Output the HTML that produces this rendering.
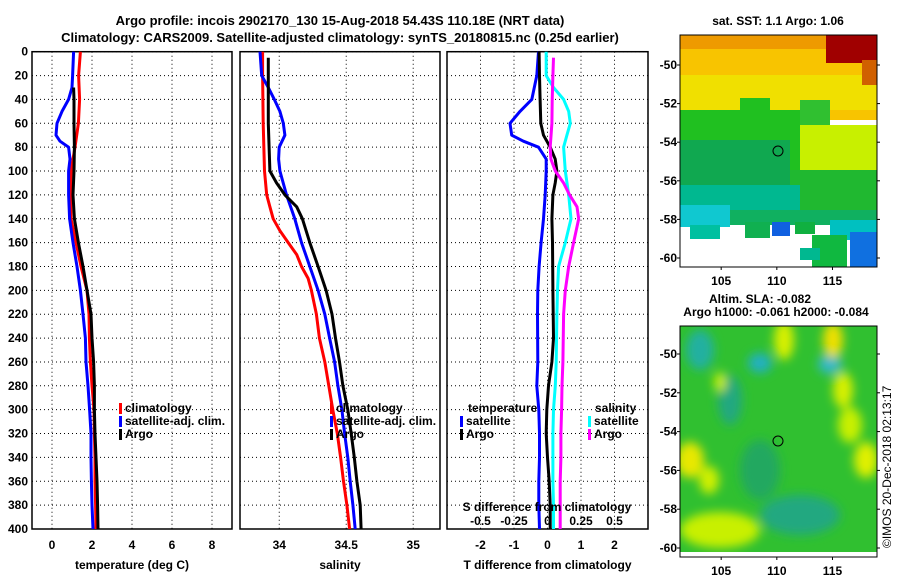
<!DOCTYPE html>
<html><head><meta charset="utf-8"><style>
html,body{margin:0;padding:0;background:#fff}
svg{display:block;font-family:"Liberation Sans",sans-serif;font-weight:bold;font-size:12px}
</style></head><body>
<svg id="c" width="900" height="580" viewBox="0 0 900 580" xmlns="http://www.w3.org/2000/svg">
<text x="340" y="25" text-anchor="middle" font-size="13">Argo profile: incois 2902170_130 15-Aug-2018 54.43S 110.18E (NRT data)</text>
<text x="340" y="42" text-anchor="middle" font-size="13">Climatology: CARS2009. Satellite-adjusted climatology: synTS_20180815.nc (0.25d earlier)</text>
<g id="g"></g>
<!-- SST map -->
<g>
<text x="778" y="25" text-anchor="middle">sat. SST: 1.1 Argo: 1.06</text>
<clipPath id="m1"><rect x="680" y="35" width="197" height="232"/></clipPath>
<g clip-path="url(#m1)">
<rect x="680" y="35" width="197" height="232" fill="#fff"/>
<rect x="680" y="35" width="197" height="85" fill="#f8c400"/>
<rect x="680" y="35" width="197" height="14" fill="#ee9a00"/>
<rect x="680" y="75" width="197" height="35" fill="#f0e000"/>
<rect x="826" y="35" width="51" height="28" fill="#a00000"/>
<rect x="862" y="60" width="15" height="25" fill="#d06000"/>
<rect x="680" y="110" width="140" height="80" fill="#20c020"/>
<rect x="740" y="98" width="30" height="20" fill="#20c020"/>
<rect x="800" y="100" width="30" height="30" fill="#30c030"/>
<rect x="800" y="125" width="77" height="60" fill="#c8f000"/>
<rect x="680" y="140" width="110" height="50" fill="#10a850"/>
<rect x="790" y="170" width="87" height="40" fill="#20b830"/>
<rect x="680" y="185" width="120" height="30" fill="#00b890"/>
<rect x="680" y="205" width="50" height="22" fill="#10c8d0"/>
<rect x="730" y="210" width="147" height="15" fill="#10b060"/>
<rect x="690" y="225" width="30" height="14" fill="#00c0a0"/>
<rect x="745" y="222" width="25" height="16" fill="#10b050"/>
<rect x="772" y="222" width="18" height="14" fill="#1060e0"/>
<rect x="795" y="222" width="20" height="12" fill="#10b040"/>
<rect x="830" y="220" width="47" height="20" fill="#00c0c0"/>
<rect x="812" y="235" width="35" height="32" fill="#10b840"/>
<rect x="850" y="232" width="27" height="35" fill="#1070e0"/>
<rect x="800" y="248" width="20" height="12" fill="#00b890"/>
</g>
<rect x="680" y="35" width="197" height="232" fill="none" stroke="#000"/>
<circle cx="778" cy="151" r="5" fill="none" stroke="#000"/>
</g>
<!-- SLA map -->
<g>
<text x="760" y="303" text-anchor="middle">Altim. SLA: -0.082</text>
<text x="776" y="316" text-anchor="middle">Argo h1000: -0.061 h2000: -0.084</text>
<clipPath id="m2"><rect x="680" y="326" width="197" height="231"/></clipPath>
<filter id="bl"><feGaussianBlur stdDeviation="5"/></filter>
<g clip-path="url(#m2)">
<rect x="680" y="326" width="197" height="231" fill="#30c030"/>
<g filter="url(#bl)">
<ellipse cx="700" cy="350" rx="14" ry="20" fill="#20b0a0"/>
<ellipse cx="730" cy="400" rx="12" ry="25" fill="#20a880"/>
<ellipse cx="760" cy="363" rx="12" ry="10" fill="#20b0c0"/>
<ellipse cx="830" cy="364" rx="12" ry="10" fill="#30b8c8"/>
<ellipse cx="784" cy="340" rx="10" ry="20" fill="#d8f000"/>
<ellipse cx="833" cy="340" rx="10" ry="18" fill="#f0e000"/>
<ellipse cx="843" cy="390" rx="10" ry="18" fill="#d8f000"/>
<ellipse cx="850" cy="425" rx="12" ry="18" fill="#c8f000"/>
<ellipse cx="690" cy="460" rx="14" ry="18" fill="#e8e800"/>
<ellipse cx="866" cy="460" rx="12" ry="18" fill="#e0f000"/>
<ellipse cx="709" cy="480" rx="10" ry="14" fill="#d0f000"/>
<ellipse cx="720" cy="530" rx="40" ry="18" fill="#c8f000"/>
<ellipse cx="800" cy="515" rx="40" ry="20" fill="#20a880"/>
<ellipse cx="760" cy="470" rx="20" ry="30" fill="#20a860"/>
<ellipse cx="720" cy="382" rx="6" ry="10" fill="#c8f000"/>
</g>
<rect x="680" y="552" width="197" height="6" fill="#fff"/>
</g>
<rect x="680" y="326" width="197" height="231" fill="none" stroke="#000"/>
<circle cx="778" cy="441" r="5" fill="none" stroke="#000"/>
</g>
<text transform="translate(891,548) rotate(-90)" font-weight="normal" font-size="12">©IMOS 20-Dec-2018 02:13:17</text>
</svg>
<script>
// ----- data -----
const depthTicks=[0,20,40,60,80,100,120,140,160,180,200,220,240,260,280,300,320,340,360,380,400];
const tTicks=[0,2,4,6,8];
const sTicks=[34,34.5,35];
const dTTicks=[-2,-1,0,1,2];
const dSTicks=[-0.5,-0.25,0,0.25,0.5];
const dSTickLabels=['-0.5','-0.25','0','0.25','0.5'];
const latTicks=[-50,-52,-54,-56,-58,-60];
const lonTicks=[105,110,115];

const tClimDepth=[0,20,40,60,80,100,120,140,160,180,200,220,240,260,280,300,320,340,360,380,400];
const tClim=[1.42,1.33,1.38,1.32,1.15,0.95,0.93,0.95,1.2,1.45,1.75,1.85,1.87,1.92,2.0,2.1,2.12,2.15,2.15,2.18,2.2];
const tSatDepth=[0,20,30,40,50,60,70,75,80,90,100,120,140,160,180,200,220,240,260,280,300,320,340,360,380,400];
const tSat=[1.08,1.03,1.0,0.83,0.5,0.25,0.2,0.4,0.83,0.9,0.83,0.83,0.88,1.05,1.25,1.42,1.55,1.67,1.7,1.8,1.88,1.95,1.95,1.97,2.0,2.05];
const tArgoDepth=[30,40,60,80,100,120,140,160,180,200,220,240,260,280,300,320,340,360,380,400];
const tArgo=[1.08,1.1,1.1,1.12,1.1,1.05,1.12,1.32,1.55,1.75,1.95,2.0,2.08,2.12,2.12,2.15,2.2,2.25,2.28,2.3];

const sClimDepth=[0,20,60,100,120,130,140,150,160,170,180,190,200,220,240,260,280,300,320,340,360,380,400];
const sClim=[33.876,33.876,33.88,33.89,33.906,33.93,33.955,34.005,34.067,34.13,34.166,34.215,34.24,34.277,34.30,34.34,34.37,34.40,34.433,34.458,34.48,34.505,34.525];
const sSatDepth=[0,20,30,40,50,60,70,80,90,100,120,140,160,180,200,220,240,260,280,300,320,340,360,380,400];
const sSat=[33.856,33.869,33.918,33.963,34.005,34.03,34.042,34.0,33.995,34.005,34.054,34.116,34.166,34.228,34.29,34.34,34.376,34.413,34.438,34.468,34.488,34.512,34.53,34.55,34.567];
const sArgoDepth=[5,20,60,100,110,120,130,140,160,180,200,220,240,260,280,300,320,340,360,380,400];
const sArgo=[33.918,33.918,33.918,33.93,33.98,34.042,34.13,34.173,34.228,34.29,34.35,34.394,34.42,34.45,34.475,34.512,34.537,34.56,34.58,34.604,34.611];

const dTSatDepth=[0,20,40,50,60,70,75,80,90,100,120,140,160,180,200,220,260,280,300,320,340,360,380,400];
const dTSat=[-0.27,-0.32,-0.47,-0.82,-1.12,-1.07,-0.72,-0.27,-0.04,-0.04,-0.07,-0.12,-0.19,-0.25,-0.29,-0.3,-0.29,-0.32,-0.26,-0.24,-0.24,-0.26,-0.26,-0.24];
const dTArgoDepth=[0,20,40,60,70,80,90,100,110,120,140,160,200,240,260,280,300,320,340,360,380,400];
const dTArgo=[-0.25,-0.24,-0.22,-0.2,-0.12,0.08,0.23,0.28,0.23,0.16,0.13,0.15,0.16,0.18,0.13,0.03,-0.02,-0.04,0,0.05,0.08,0.08];
const dSSatDepth=[0,20,30,40,50,60,70,80,100,120,140,160,180,200,220,260,280,300,320,340,360,380,400];
const dSSat=[-0.01,-0.01,0.045,0.12,0.158,0.17,0.145,0.12,0.133,0.158,0.175,0.133,0.083,0.075,0.07,0.065,0.058,0.045,0.04,0.04,0.04,0.045,0.045];
const dSArgoDepth=[5,20,40,60,80,90,100,110,120,130,140,160,180,200,220,260,280,300,320,340,360,380,400];
const dSArgo=[0.045,0.04,0.035,0.033,0.02,0.025,0.058,0.12,0.165,0.22,0.233,0.195,0.158,0.133,0.12,0.115,0.108,0.105,0.1,0.1,0.095,0.095,0.095];

// ----- drawing -----
const NS='http://www.w3.org/2000/svg';
const G=document.getElementById('g');
function mk(tag,at,parent){const e=document.createElementNS(NS,tag);for(const k in at)e.setAttribute(k,at[k]);(parent||G).appendChild(e);return e;}
const Y0=51.7,Y1=529;
const yD=d=>Y0+(d/400)*(Y1-Y0);
function lin(d0,d1,r0,r1){return v=>r0+(v-d0)/(d1-d0)*(r1-r0);}
const xT=lin(-1,9,32,232), xS=lin(33.707,35.2,240,440), xDT=lin(-3,3,447,648), xDS=lin(-0.75,0.75,447,648);

function panel(x0,x1,xs,ticks,labels,title,name,leftLabels){
  const g=mk('g',{});
  
  
  depthTicks.forEach(d=>{
    const l=mk('line',{x1:x0,x2:x1,y1:yD(d),y2:yD(d),stroke:'#000','stroke-dasharray':'1,3','stroke-width':1},g);
    
    
    if(leftLabels){
      const t=mk('text',{x:28,y:yD(d)+4,'text-anchor':'end'},g);t.textContent=d;
      
      
    }
  });
  ticks.forEach((v,i)=>{
    const l=mk('line',{x1:xs(v),x2:xs(v),y1:Y0,y2:Y1,stroke:'#000','stroke-dasharray':'1,3'},g);
    
    
    const t=mk('text',{x:xs(v),y:549,'text-anchor':'middle'},g);t.textContent=labels[i];
    
    
  });
  const r=mk('rect',{x:x0,y:Y0,width:x1-x0,height:Y1-Y0,fill:'none',stroke:'#000','stroke-width':1.5},g);
  
  
  const t=mk('text',{x:(x0+x1)/2,y:569,'text-anchor':'middle'},g);t.textContent=title;
  
  
  return g;
}
function line(depths,vals,xs,color,name,w){
  const p=mk('polyline',{points:depths.map((d,i)=>xs(vals[i]).toFixed(1)+','+yD(d).toFixed(1)).join(' '),fill:'none',stroke:color,'stroke-width':w||3,'stroke-linejoin':'round'});
  
  
}
function legendItem(x,y,color,label,name){
  const r=mk('rect',{x:x,y:y-9,width:3,height:11,fill:color});
  
  
  const t=mk('text',{x:x+6,y:y});t.textContent=label;
  
  
}
panel(32,232,xT,tTicks,tTicks.map(String),'temperature (deg C)','temperature-panel',true);
panel(240,440,xS,sTicks,['34','34.5','35'],'salinity','salinity-panel',false);
panel(447,648,xDT,dTTicks,dTTicks.map(String),'T difference from climatology','difference-panel',false);

line(tClimDepth,tClim,xT,'#f00','temp-climatology-line');
line(tSatDepth,tSat,xT,'#00f','temp-satellite-line');
line(tArgoDepth,tArgo,xT,'#000','temp-argo-line');
line(sClimDepth,sClim,xS,'#f00','sal-climatology-line');
line(sSatDepth,sSat,xS,'#00f','sal-satellite-line');
line(sArgoDepth,sArgo,xS,'#000','sal-argo-line');
line(dTSatDepth,dTSat,xDT,'#00f','dT-satellite-line');
line(dTArgoDepth,dTArgo,xDT,'#000','dT-argo-line');
line(dSSatDepth,dSSat,xDS,'#0ff','dS-satellite-line');
line(dSArgoDepth,dSArgo,xDS,'#f0f','dS-argo-line');

legendItem(119,412,'#f00','climatology','legend-climatology');
legendItem(119,425,'#00f','satellite-adj. clim.','legend-satellite-adj');
legendItem(119,438,'#000','Argo','legend-argo');
legendItem(330,412,'#f00','climatology','legend-sal-climatology');
legendItem(330,425,'#00f','satellite-adj. clim.','legend-sal-satellite-adj');
legendItem(330,438,'#000','Argo','legend-sal-argo');
let tt=mk('text',{x:468,y:412});tt.textContent='temperature';


legendItem(460,425,'#00f','satellite','legend-t-satellite');
legendItem(460,438,'#000','Argo','legend-t-argo');
tt=mk('text',{x:595,y:412});tt.textContent='salinity';


legendItem(588,425,'#0ff','satellite','legend-s-satellite');
legendItem(588,438,'#f0f','Argo','legend-s-argo');
tt=mk('text',{x:547,y:511,'text-anchor':'middle'});tt.textContent='S difference from climatology';


dSTicks.forEach((v,i)=>{
  const t=mk('text',{x:xDS(v),y:525,'text-anchor':'middle'});t.textContent=dSTickLabels[i];
  
  
});

// map axes
const lonX=lin(101.3,119,680,877);
function mapAxes(yTop,yBot,lat50,lat60,labelY){
  const latY=lin(-50,-60,lat50,lat60);
  latTicks.forEach(v=>{
    const t=mk('text',{x:677,y:latY(v)+4,'text-anchor':'end'});t.textContent=v;
    
    
    const a=mk('line',{x1:677,x2:680,y1:latY(v),y2:latY(v),stroke:'#000'});
    
    
    const b=mk('line',{x1:877,x2:880,y1:latY(v),y2:latY(v),stroke:'#000'});
    
    
  });
  lonTicks.forEach(v=>{
    const t=mk('text',{x:lonX(v),y:labelY,'text-anchor':'middle'});t.textContent=v;
    
    
    const a=mk('line',{x1:lonX(v),x2:lonX(v),y1:yBot,y2:yBot+3,stroke:'#000'});
    
    
  });
}
mapAxes(35,267,65,258,285);
mapAxes(326,557,354,548,575);
</script>
</body></html>
